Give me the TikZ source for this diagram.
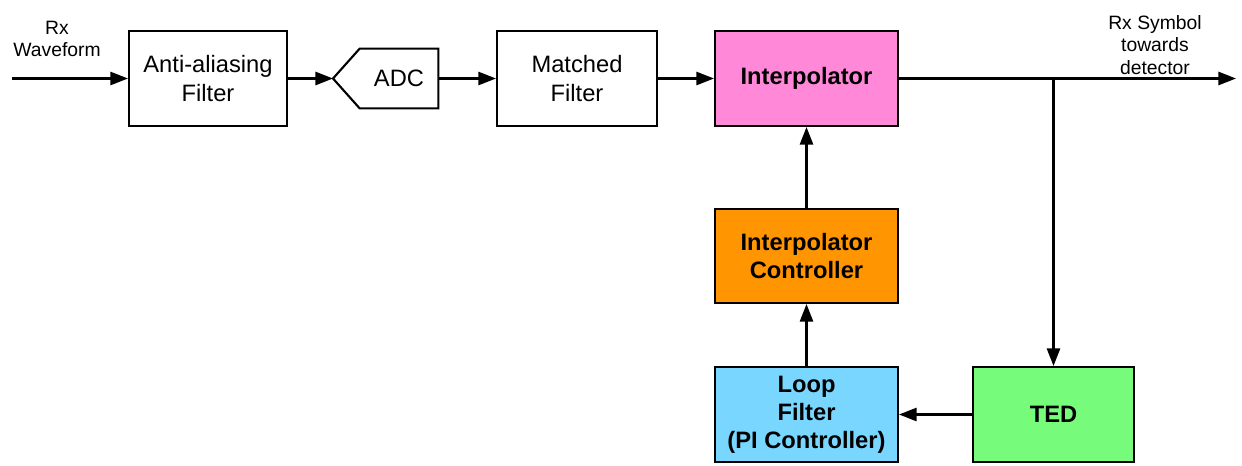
\documentclass[tikz,border=0pt]{standalone}
\usepackage{fontspec}
\setmainfont{Liberation Sans}
\usetikzlibrary{arrows.meta}

\definecolor{interpcol}{HTML}{FF88D8}
\definecolor{ctrlcol}{HTML}{FF9500}
\definecolor{loopcol}{HTML}{78D6FF}
\definecolor{tedcol}{HTML}{76FB7A}

\tikzset{
  block/.style={draw,line width=1.2pt,align=center,inner sep=0pt,
    font=\fontsize{13.5}{16}\selectfont},
  sig/.style={line width=1.2pt,-{Triangle[length=10pt,width=7.5pt]}},
  lbl/.style={align=center,font=\fontsize{11}{12.6}\selectfont}
}

\begin{document}
\begin{tikzpicture}[x=0.02cm,y=-0.02cm]
  \useasboundingbox (0,0) rectangle (1242,466);

  % front end
  \node (aaf) at (208,78.5) [block,minimum width=158*0.02cm,minimum height=95*0.02cm] {Anti-aliasing\\Filter};
  \node (adc) at (399,78.5) [minimum width=78*0.02cm,minimum height=59*0.02cm,inner sep=0pt,
    font=\fontsize{13.5}{16}\selectfont] {ADC};
  \coordinate (adctip) at (333,78.5);
  \draw[line width=1.2pt] (adctip) -- (adc.north west) -- (adc.north east)
    -- (adc.south east) -- (adc.south west) -- cycle;
  \node (mf) at (577,78.5) [block,minimum width=160*0.02cm,minimum height=95*0.02cm] {Matched\\Filter};

  % timing loop
  \node (interp) at (806.5,78.5) [block,fill=interpcol,minimum width=183*0.02cm,minimum height=95*0.02cm,
    font=\fontsize{13.5}{16}\selectfont\bfseries] {Interpolator};
  \node (ctrl) at (806.5,256) [block,fill=ctrlcol,minimum width=183*0.02cm,minimum height=94*0.02cm,
    font=\fontsize{13.5}{16}\selectfont\bfseries] {Interpolator\\Controller};
  \node (loop) at (806.5,414.5) [block,fill=loopcol,minimum width=183*0.02cm,minimum height=95*0.02cm,
    font=\fontsize{13.5}{16}\selectfont\bfseries] {Loop\\Filter\\(PI Controller)};
  \node (ted) at (1053.5,414.5) [block,fill=tedcol,minimum width=161*0.02cm,minimum height=95*0.02cm,
    font=\fontsize{13.5}{16}\selectfont\bfseries] {TED};

  % labels
  \node (rxin) at (57,39) [lbl] {Rx\\Waveform};
  \node (rxout) at (1155,45) [lbl] {Rx Symbol\\towards\\detector};
  \coordinate (in) at (12,78.5);
  \coordinate (out) at (1236,78.5);
  \coordinate (split) at (1053.5,78.5);

  % connectors
  \draw[sig] (in) -- (aaf);
  \draw[sig] (aaf) -- (adctip);
  \draw[sig] (adc) -- (mf);
  \draw[sig] (mf) -- (interp);
  \draw[sig] (interp) -- (out);
  \draw[sig] (split) -- (ted);
  \draw[sig] (ted) -- (loop);
  \draw[sig] (loop) -- (ctrl);
  \draw[sig] (ctrl) -- (interp);
\end{tikzpicture}
\end{document}
